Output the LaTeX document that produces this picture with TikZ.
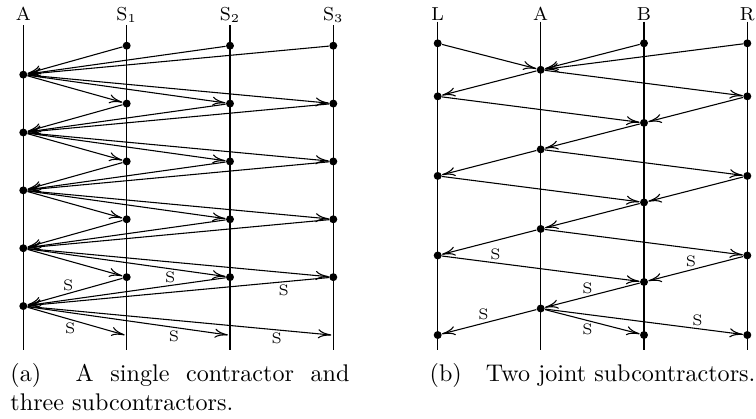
\documentclass[tikz,border=0pt]{standalone}
\usepackage{amsmath}
\usepackage{tikz}
\usetikzlibrary{arrows.meta}

\begin{document}
\begin{tikzpicture}[x=0.415pt,y=-0.415pt,
  lane/.style={line width=0.45pt},
  dot/.style={circle,fill,inner sep=0pt,minimum size=3.3pt},
  msg/.style={line width=0.45pt,-{To[length=5.5pt,width=3.8pt]}},
  head/.style={font=\fontsize{7.8}{9}\selectfont,anchor=base,inner sep=0pt},
  lbl/.style={font=\fontsize{6.3}{7}\selectfont,inner sep=1pt}]
  \useasboundingbox (0,0) rectangle (756,418);

  % (a) single contractor, three subcontractors
  \foreach \n/\x/\t in {a/23.3/A,s1/126.7/S$_1$,s2/230/S$_2$,s3/333.3/S$_3$} {
    \node[head] (h\n) at (\x,20.5) {\t};
    \coordinate (top\n) at (\x,25);
    \coordinate (bot\n) at (\x,350);
    \draw[lane] (top\n) -- (bot\n);
  }
  \foreach \k in {1,...,5}
    \node[dot] (a\k) at (23.3,45.7+57.86*\k-28.93) {};
  \foreach \i/\x in {1/126.7,2/230,3/333.3} {
    \foreach \k in {0,...,4}
      \node[dot] (s\i-\k) at (\x,45.7+57.86*\k) {};
    \coordinate (s\i-end) at (\x-2,335);
  }
  \foreach \i in {1,2,3} {
    \foreach \p/\k in {0/1,1/2,2/3,3/4} {
      \draw[msg] (s\i-\p) -- (a\k);
      \draw[msg] (a\k) -- (s\i-\k);
    }
  }
  \draw[msg] (s1-4) -- node[lbl,pos=0.57,above] {S} (a5);
  \draw[msg] (s2-4) -- node[lbl,pos=0.28,above] {S} (a5);
  \draw[msg] (s3-4) -- node[lbl,pos=0.15,below] {S} (a5);
  \draw[msg] (a5) -- node[lbl,pos=0.44,below] {S} (s1-end);
  \draw[msg] (a5) -- node[lbl,pos=0.73,below] {S} (s2-end);
  \draw[msg] (a5) -- node[lbl,pos=0.82,below] {S} (s3-end);

  % (b) two joint subcontractors
  \foreach \n/\x in {L/437.7,A/540.7,B/644,R/747.3} {
    \node[head] (h\n) at (\x,20) {\n};
    \coordinate (top\n) at (\x,21.7);
    \coordinate (bot\n) at (\x,350);
    \draw[lane] (top\n) -- (bot\n);
  }
  \foreach \k in {1,4,7,10}
    \node[dot] (A\k) at (540.7,43.3+26.52*\k) {};
  \foreach \k in {0,2,5,8,11} {
    \node[dot] (L\k) at (437.7,43.3+26.52*\k) {};
    \node[dot] (R\k) at (747.3,43.3+26.52*\k) {};
  }
  \foreach \k in {0,3,6,9,11}
    \node[dot] (B\k) at (644,43.3+26.52*\k) {};

  \foreach \s in {L0,B0,R0}
    \draw[msg] (\s) -- (A1);
  \foreach \a/\l/\b/\n in {1/2/3/4,4/5/6/7} {
    \draw[msg] (A\a) -- (L\l);
    \draw[msg] (A\a) -- (R\l);
    \draw[msg] (L\l) -- (B\b);
    \draw[msg] (R\l) -- (B\b);
    \draw[msg] (B\b) -- (A\n);
  }
  \draw[msg] (A7) -- (L8);
  \draw[msg] (A7) -- (R8);
  \draw[msg] (L8) -- node[lbl,pos=0.27,above] {S} (B9);
  \draw[msg] (R8) -- node[lbl,pos=0.55,above] {S} (B9);
  \draw[msg] (B9) -- node[lbl,pos=0.55,above] {S} (A10);
  \draw[msg] (A10) -- node[lbl,pos=0.56,above] {S} (L11);
  \draw[msg] (A10) -- node[lbl,pos=0.45,below] {S} (B11);
  \draw[msg] (A10) -- node[lbl,pos=0.77,above] {S} (R11);

  % captions
  \node[anchor=base west,text width=140.7pt,align=justify,inner sep=0pt] (capa)
    at (10,381.7) {(a)\hspace{10pt plus 2pt}A single contractor and three subcontractors.};
  \node[anchor=base,inner sep=0pt] (capb)
    at (592.5,381.7) {(b)\hspace{10pt}Two joint subcontractors.};
\end{tikzpicture}
\end{document}
